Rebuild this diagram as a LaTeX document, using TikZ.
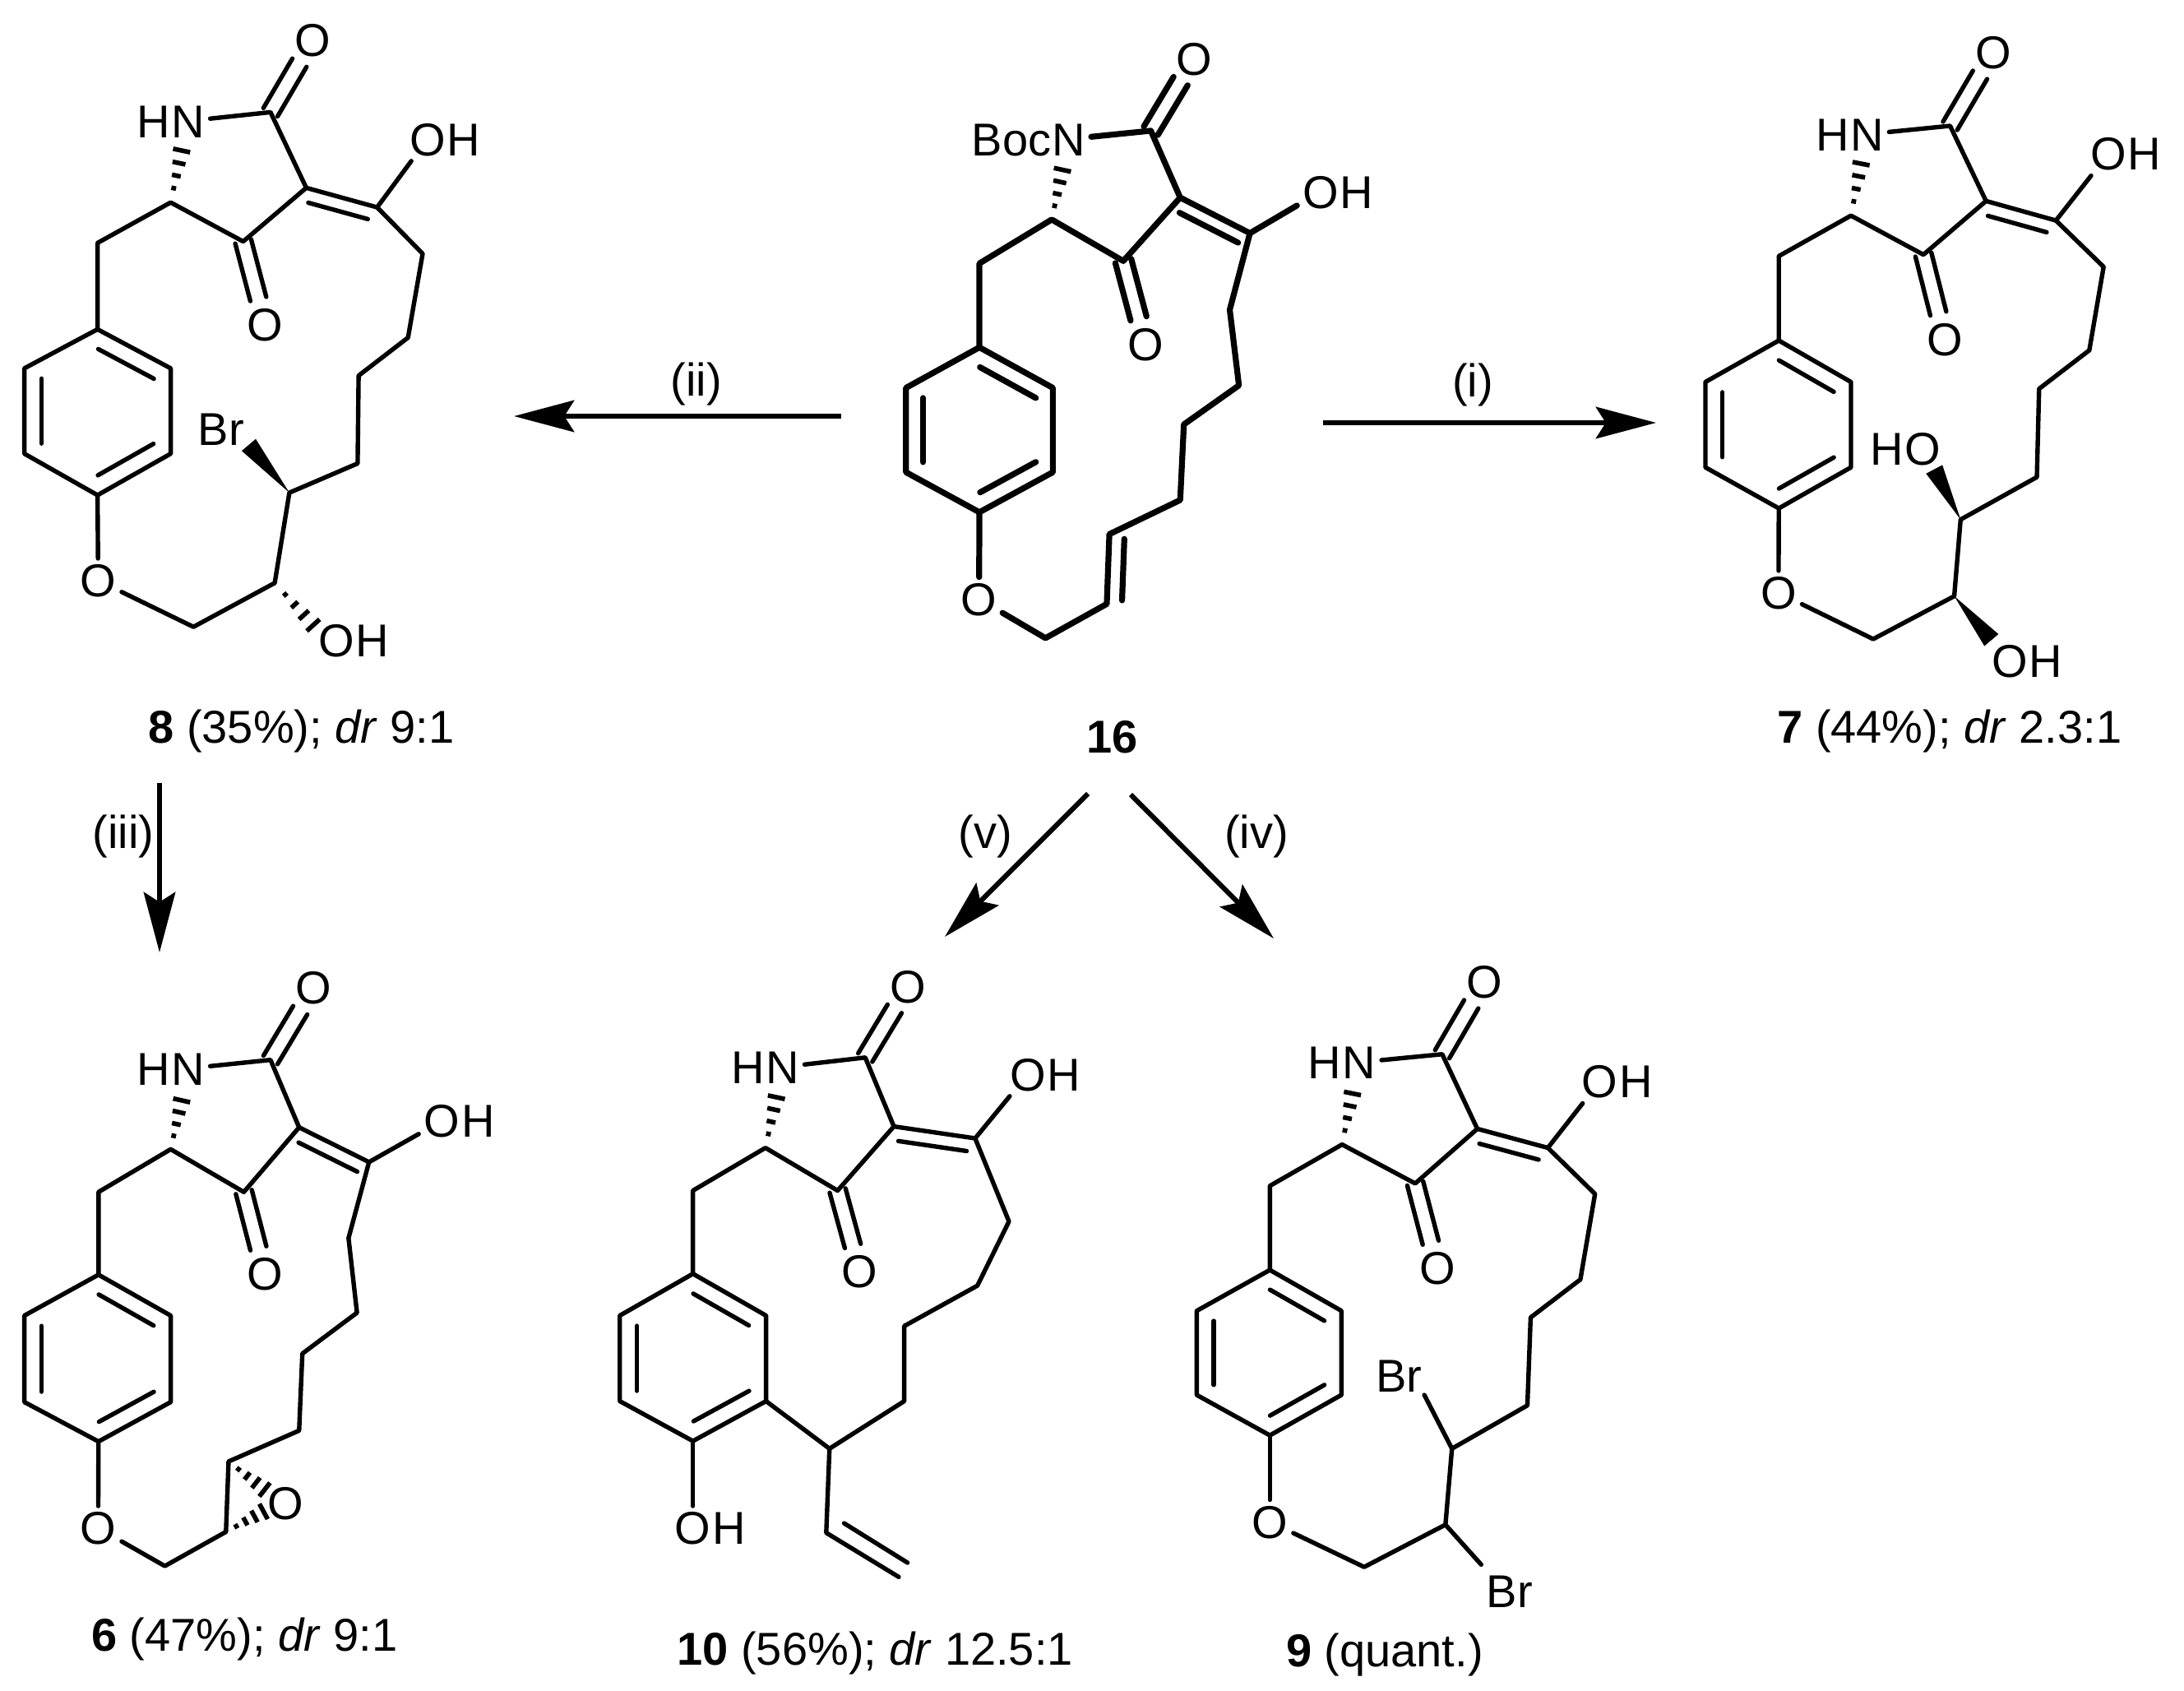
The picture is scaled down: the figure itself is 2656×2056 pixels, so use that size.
\documentclass[tikz,border=0pt]{standalone}
\usepackage{fontspec}
\setmainfont{Liberation Sans}
\usepackage{tikz}
\usetikzlibrary{arrows.meta,calc}
\tikzstyle{atom} = [draw=none, fill=none, text=black, text centered, font=\fontsize{14}{16}\selectfont, text height=10pt, text depth=0pt, inner sep=1.5pt]
\tikzstyle{hleft} = [anchor=east, xshift=3pt]
\tikzstyle{hright} = [anchor=west, xshift=-3pt]
\tikzstyle{bond} = [draw, line width=1.35pt, line join=round, line cap=round]
\tikzstyle{hash} = [draw, line width=1.4pt]
\tikzstyle{tedge} = [draw, line width=1.5pt, -{Stealth[length=18.3pt, width=9.6pt, inset=3pt]}]
% bond drawn inside a ring, on the right of #2 -> #3
\newcommand{\innerbond}[4][.12]{\path[bond] ($(#2)!#1!(#3)!#4!-90:(#3)$) -- ($(#3)!#1!(#2)!#4!90:(#2)$);}
% carbonyl
\newcommand{\cobond}[2]{%
\path[bond, shorten >=8pt] ($(#1)!2.5pt!90:(#2.center)$) -- ($(#2.center)!2.5pt!-90:(#1)$);
\path[bond, shorten >=8pt] ($(#1)!2.5pt!-90:(#2.center)$) -- ($(#2.center)!2.5pt!90:(#1)$);}
\newcommand{\hashbond}[2]{\foreach \t in {.25,.47,.69,.91} {\path[hash] ($(#1)!\t!(#2)!\t*2.9pt!90:(#2)$) -- ($(#1)!\t!(#2)!\t*2.9pt!-90:(#2)$);}}
\newcommand{\wedgebond}[2]{\fill (#1) -- ($(#2)!2.8pt!90:(#1)$) -- ($(#2)!2.8pt!-90:(#1)$) -- cycle;}
% part that all six products have in common
\newcommand{\coremol}[1]{%
\path[bond] (n#1) -- (ca#1) -- (cb#1) -- (cd#1) -- (ce#1) -- (cf#1) -- (r1#1) -- (r2#1) -- (r3#1) -- (r4#1) -- (r5#1) -- (r6#1) -- (r1#1);
\path[bond] (cb#1) -- (cc#1) -- (oh#1);
\path[bond] (r4#1) -- (oe#1);
\innerbond{r1#1}{r2#1}{5.2pt}
\innerbond{r3#1}{r4#1}{5.2pt}
\innerbond{r5#1}{r6#1}{5.2pt}
\innerbond[.08]{cb#1}{cc#1}{4.2pt}
\cobond{ca#1}{oa#1}
\cobond{cd#1}{od#1}
\hashbond{ce#1}{hx#1}}
% tether from the ether oxygen back to the enol carbon
\newcommand{\tethermol}[1]{\path[bond] (oe#1) -- (g#1) -- (s1#1) -- (s2#1) -- (k1#1) -- (k2#1) -- (k3#1) -- (k4#1) -- (cc#1);}

\begin{document}
\begin{tikzpicture}[x=0.25pt, y=-0.25pt]
\useasboundingbox (0,0) rectangle (2656,2056);

% compound 8 =============================
\begin{scope}[x=0.09885pt, y=-0.14828pt]
\node[atom] (n8) at (578,248) {N};
\node[atom, hleft] (hn8) at (n8.west) {H};
\node[atom] (oa8) at (962,82) {O};
\node[atom] (od8) at (815,665) {O};
\node[atom] (oh8) at (1315,285) {O};
\node[atom, hright] (ho8) at (oh8.east) {H};
\node[atom] (oe8) at (302,1190) {O};
\node[atom] (br8) at (680,880) {Br};
\node[atom] (oi8) at (1035,1312) {O};
\node[atom, hright] (hi8) at (oi8.east) {H};
\coordinate (ca8) at (832,230);
\coordinate (cb8) at (942,385);
\coordinate (cc8) at (1160,425);
\coordinate (cd8) at (748,495);
\coordinate (ce8) at (525,415);
\coordinate (cf8) at (300,498);
\coordinate (hx8) at (562,298);
\coordinate (r18) at (300,675);
\coordinate (r28) at (525,755);
\coordinate (r38) at (525,930);
\coordinate (r48) at (300,1015);
\coordinate (r58) at (75,930);
\coordinate (r68) at (75,755);
\coordinate (g8) at (595,1285);
\coordinate (s18) at (845,1195);
\coordinate (s28) at (890,1010);
\coordinate (k18) at (1100,950);
\coordinate (k28) at (1103,770);
\coordinate (k38) at (1255,692);
\coordinate (k48) at (1300,520);
\coordinate (wx8) at (765,912);
\coordinate (hy8) at (975,1290);
\coremol{8}
\tethermol{8}
\wedgebond{s28}{wx8}
\hashbond{s18}{hy8}
\node[atom] (cap8) at (927,1489) {\textbf{8} (35\%); \textit{dr} 9:1};
\end{scope}

% compound 16 ============================
\begin{scope}[x=0.11161pt, y=-0.14828pt, shift={(250pt,0pt)}, bond/.append style={line width=1.8pt}]
\node[atom] (n16) at (672,285) {N};
\node[atom, hleft] (boc16) at (n16.west) {Boc};
\node[atom] (oa16) at (1013,120) {O};
\node[atom] (od16) at (880,705) {O};
\node[atom] (oh16) at (1357,393) {O};
\node[atom, hright] (ho16) at (oh16.east) {H};
\node[atom] (oe16) at (427,1228) {O};
\coordinate (ca16) at (895,268);
\coordinate (cb16) at (975,405);
\coordinate (cc16) at (1165,478);
\coordinate (cd16) at (820,535);
\coordinate (ce16) at (625,450);
\coordinate (cf16) at (428,540);
\coordinate (hx16) at (657,338);
\coordinate (r116) at (428,712);
\coordinate (r216) at (628,795);
\coordinate (r316) at (628,968);
\coordinate (r416) at (428,1050);
\coordinate (r516) at (228,968);
\coordinate (r616) at (228,795);
\coordinate (g16) at (608,1308);
\coordinate (s116) at (775,1238);
\coordinate (s216) at (782,1095);
\coordinate (k116) at (975,1025);
\coordinate (k216) at (985,870);
\coordinate (k316) at (1135,790);
\coordinate (k416) at (1110,635);
\coremol{16}
\tethermol{16}
\innerbond[.06]{s116}{s216}{4.6pt}
\node[atom] (cap16) at (790,1510) {\textbf{16}};
\end{scope}

% compound 7 =============================
\begin{scope}[x=0.09662pt, y=-0.14828pt, shift={(512.5pt,0pt)}]
\node[atom] (n7) at (570,275) {N};
\node[atom, hleft] (hn7) at (n7.west) {H};
\node[atom] (oa7) at (968,107) {O};
\node[atom] (od7) at (815,695) {O};
\node[atom] (oh7) at (1330,315) {O};
\node[atom, hright] (ho7) at (oh7.east) {H};
\node[atom] (oe7) at (292,1215) {O};
\node[atom] (oj7) at (745,920) {O};
\node[atom, hleft] (hj7) at (oj7.west) {H};
\node[atom] (oi7) at (1020,1355) {O};
\node[atom, hright] (hi7) at (oi7.east) {H};
\coordinate (ca7) at (832,258);
\coordinate (cb7) at (945,412);
\coordinate (cc7) at (1165,452);
\coordinate (cd7) at (748,522);
\coordinate (ce7) at (520,442);
\coordinate (cf7) at (293,525);
\coordinate (hx7) at (555,325);
\coordinate (r17) at (293,698);
\coordinate (r27) at (520,783);
\coordinate (r37) at (520,958);
\coordinate (r47) at (293,1042);
\coordinate (r57) at (62,958);
\coordinate (r67) at (62,783);
\coordinate (g7) at (590,1310);
\coordinate (s17) at (845,1222);
\coordinate (s27) at (865,1065);
\coordinate (k17) at (1105,978);
\coordinate (k27) at (1112,797);
\coordinate (k37) at (1270,718);
\coordinate (k47) at (1315,547);
\coordinate (wx7) at (782,962);
\coordinate (wy7) at (962,1312);
\coremol{7}
\tethermol{7}
\wedgebond{s27}{wx7}
\wedgebond{s17}{wy7}
\node[atom] (cap7) at (830,1490) {\textbf{7} (44\%); \textit{dr} 2.3:1};
\end{scope}

% compound 6 =============================
\begin{scope}[x=0.09885pt, y=-0.14445pt, shift={(0pt,-287.5pt)}]
\node[atom] (n6) at (578,258) {N};
\node[atom, hleft] (hn6) at (n6.west) {H};
\node[atom] (oa6) at (965,88) {O};
\node[atom] (od6) at (815,690) {O};
\node[atom] (oh6) at (1360,368) {O};
\node[atom, hright] (ho6) at (oh6.east) {H};
\node[atom] (oe6) at (302,1225) {O};
\node[atom] (ox6) at (878,1172) {O};
\coordinate (ca6) at (832,240);
\coordinate (cb6) at (920,382);
\coordinate (cc6) at (1135,455);
\coordinate (cd6) at (750,518);
\coordinate (ce6) at (525,428);
\coordinate (cf6) at (303,518);
\coordinate (hx6) at (562,315);
\coordinate (r16) at (303,692);
\coordinate (r26) at (525,778);
\coordinate (r36) at (525,960);
\coordinate (r46) at (303,1043);
\coordinate (r56) at (75,960);
\coordinate (r66) at (75,778);
\coordinate (g6) at (507,1305);
\coordinate (s16) at (695,1233);
\coordinate (s26) at (703,1085);
\coordinate (k16) at (920,1020);
\coordinate (k26) at (930,858);
\coordinate (k36) at (1098,772);
\coordinate (k46) at (1072,615);
\coordinate (hy6) at (825,1150);
\coordinate (hz6) at (822,1186);
\coremol{6}
\tethermol{6}
\hashbond{s26}{hy6}
\hashbond{s16}{hz6}
\node[atom] (cap6) at (752,1450) {\textbf{6} (47\%); \textit{dr} 9:1};
\end{scope}

% compound 10 ============================
\begin{scope}[x=0.09885pt, y=-0.14445pt, shift={(182.5pt,-287.5pt)}]
\node[atom] (n10) at (560,255) {N};
\node[atom, hleft] (hn10) at (n10.west) {H};
\node[atom] (oa10) at (947,85) {O};
\node[atom] (od10) at (798,685) {O};
\node[atom] (oh10) at (1315,270) {O};
\node[atom, hright] (ho10) at (oh10.east) {H};
\node[atom] (oe10) at (285,1225) {O};
\node[atom, hright] (he10) at (oe10.east) {H};
\coordinate (ca10) at (815,235);
\coordinate (cb10) at (903,380);
\coordinate (cc10) at (1153,405);
\coordinate (cd10) at (730,515);
\coordinate (ce10) at (508,425);
\coordinate (cf10) at (285,515);
\coordinate (hx10) at (545,308);
\coordinate (r110) at (285,690);
\coordinate (r210) at (510,778);
\coordinate (r310) at (510,958);
\coordinate (r410) at (285,1042);
\coordinate (r510) at (60,958);
\coordinate (r610) at (60,778);
\coordinate (s10) at (705,1058);
\coordinate (v110) at (695,1235);
\coordinate (v210) at (918,1328);
\coordinate (v310) at (750,1215);
\coordinate (v410) at (945,1298);
\coordinate (k110) at (935,958);
\coordinate (k210) at (935,800);
\coordinate (k310) at (1160,715);
\coordinate (k410) at (1257,580);
\coremol{10}
\path[bond] (r310) -- (s10) -- (k110) -- (k210) -- (k310) -- (k410) -- (cc10);
\path[bond] (s10) -- (v110) -- (v210);
\path[bond] (v310) -- (v410);
\node[atom] (cap10) at (845,1478) {\textbf{10} (56\%); \textit{dr} 12.5:1};
\end{scope}

% compound 9 =============================
\begin{scope}[x=0.09885pt, y=-0.14445pt, shift={(350pt,-287.5pt)}]
\node[atom] (n9) at (640,245) {N};
\node[atom, hleft] (hn9) at (n9.west) {H};
\node[atom] (oa9) at (1025,75) {O};
\node[atom] (od9) at (880,678) {O};
\node[atom] (oh9) at (1380,285) {O};
\node[atom, hright] (ho9) at (oh9.east) {H};
\node[atom] (oe9) at (365,1212) {O};
\node[atom] (bra9) at (762,905) {Br};
\node[atom] (brb9) at (1102,1358) {Br};
\coordinate (ca9) at (895,228);
\coordinate (cb9) at (1003,385);
\coordinate (cc9) at (1220,425);
\coordinate (cd9) at (812,500);
\coordinate (ce9) at (587,418);
\coordinate (cf9) at (365,505);
\coordinate (hx9) at (622,300);
\coordinate (r19) at (365,682);
\coordinate (r29) at (585,768);
\coordinate (r39) at (585,945);
\coordinate (r49) at (365,1030);
\coordinate (r59) at (140,945);
\coordinate (r69) at (140,768);
\coordinate (g9) at (655,1307);
\coordinate (s19) at (905,1218);
\coordinate (s29) at (925,1058);
\coordinate (k19) at (1157,967);
\coordinate (k29) at (1167,782);
\coordinate (k39) at (1320,702);
\coordinate (k49) at (1365,522);
\coordinate (bx9) at (840,945);
\coordinate (by9) at (1015,1302);
\coremol{9}
\tethermol{9}
\path[bond] (s29) -- (bx9);
\path[bond] (s19) -- (by9);
\node[atom] (cap9) at (718,1483) {\textbf{9} (quant.)};
\end{scope}

% arrows =================================
\coordinate (a1s) at (1609,514);
\coordinate (a1e) at (2014,514);
\coordinate (a2s) at (1023,506);
\coordinate (a2e) at (625,506);
\coordinate (a3s) at (194,952);
\coordinate (a3e) at (194,1158);
\coordinate (a4s) at (1375,966);
\coordinate (a4e) at (1549,1141);
\coordinate (a5s) at (1323,965);
\coordinate (a5e) at (1149,1139);
\path[tedge] (a1s) -- (a1e);
\path[tedge] (a2s) -- (a2e);
\path[tedge] (a3s) -- (a3e);
\path[tedge] (a4s) -- (a4e);
\path[tedge] (a5s) -- (a5e);

%labels
\node[atom] (l1) at (1791,462) {(i)};
\node[atom] (l2) at (847,461) {(ii)};
\node[atom] (l3) at (150,1011) {(iii)};
\node[atom] (l4) at (1528,1011) {(iv)};
\node[atom] (l5) at (1198,1011) {(v)};

\end{tikzpicture}
\end{document}
